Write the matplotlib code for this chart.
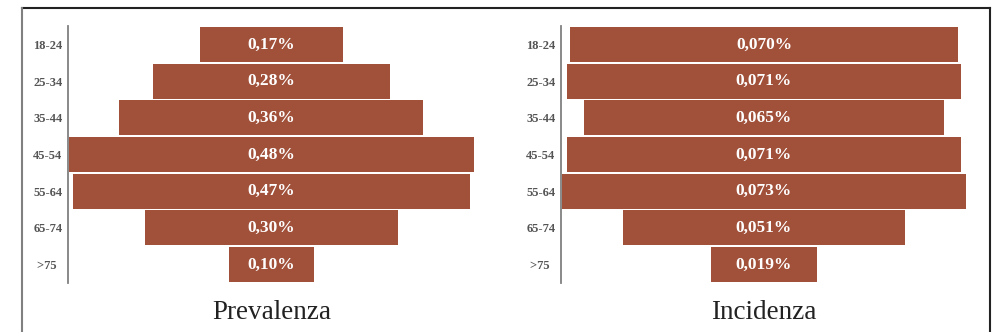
import matplotlib

matplotlib.use("Agg")
import matplotlib.pyplot as plt
from matplotlib.lines import Line2D

age_groups = ["18-24", "25-34", "35-44", "45-54", "55-64", "65-74", ">75"]
prevalence = [0.17, 0.28, 0.36, 0.48, 0.47, 0.30, 0.10]
incidence = [0.070, 0.071, 0.065, 0.071, 0.073, 0.051, 0.019]

BAR_COLOR = "#a1503a"
FONT = "Liberation Serif"

plt.rcParams["font.family"] = [FONT, "DejaVu Serif"]

fig = plt.figure(figsize=(9.95, 3.32), dpi=100)

# outer frame (top, left, right only)
fig.add_artist(Line2D([0.0226, 0.9945], [0.9744, 0.9744], transform=fig.transFigure, color="#222222", lw=1.5))
fig.add_artist(Line2D([0.0226, 0.0226], [-0.01, 0.9744], transform=fig.transFigure, color="#808080", lw=1.5))
fig.add_artist(Line2D([0.9945, 0.9945], [-0.01, 0.9744], transform=fig.transFigure, color="#222222", lw=1.5))


def funnel(rect, values, decimals, title):
    ax = fig.add_axes(rect)
    rows = range(len(age_groups))
    lefts = [-v / 2 for v in values]
    ax.barh(list(rows), values, left=lefts, height=0.95, color=BAR_COLOR)
    for i, v in enumerate(values):
        label = f"{v:.{decimals}f}".replace(".", ",") + "%"
        ax.text(0, i, label, ha="center", va="center", color="white",
                fontsize=12.5, fontweight="bold")
    half = max(values) / 2 * 1.004
    ax.set_xlim(-half, half)
    ax.set_ylim(len(age_groups) - 0.5, -0.5)
    ax.set_yticks(list(rows))
    ax.set_yticklabels([a if a != ">75" else a + "  " for a in age_groups],
                       fontsize=9, fontweight="bold", color="#555555")
    ax.tick_params(axis="y", length=0, pad=4)
    ax.set_xticks([])
    for side in ("top", "right", "bottom"):
        ax.spines[side].set_visible(False)
    ax.spines["left"].set_color("#808080")
    ax.spines["left"].set_linewidth(1.3)
    cx = rect[0] + rect[2] / 2
    fig.text(cx, 0.039, title, ha="center", va="baseline", fontsize=19.5, color="#222222")
    return ax


funnel([0.0683, 0.1476, 0.409, 0.774], prevalence, 2, "Prevalenza")
funnel([0.5638, 0.1476, 0.408, 0.774], incidence, 3, "Incidenza")

fig.savefig("out.png", dpi=100)
plt.close(fig)
